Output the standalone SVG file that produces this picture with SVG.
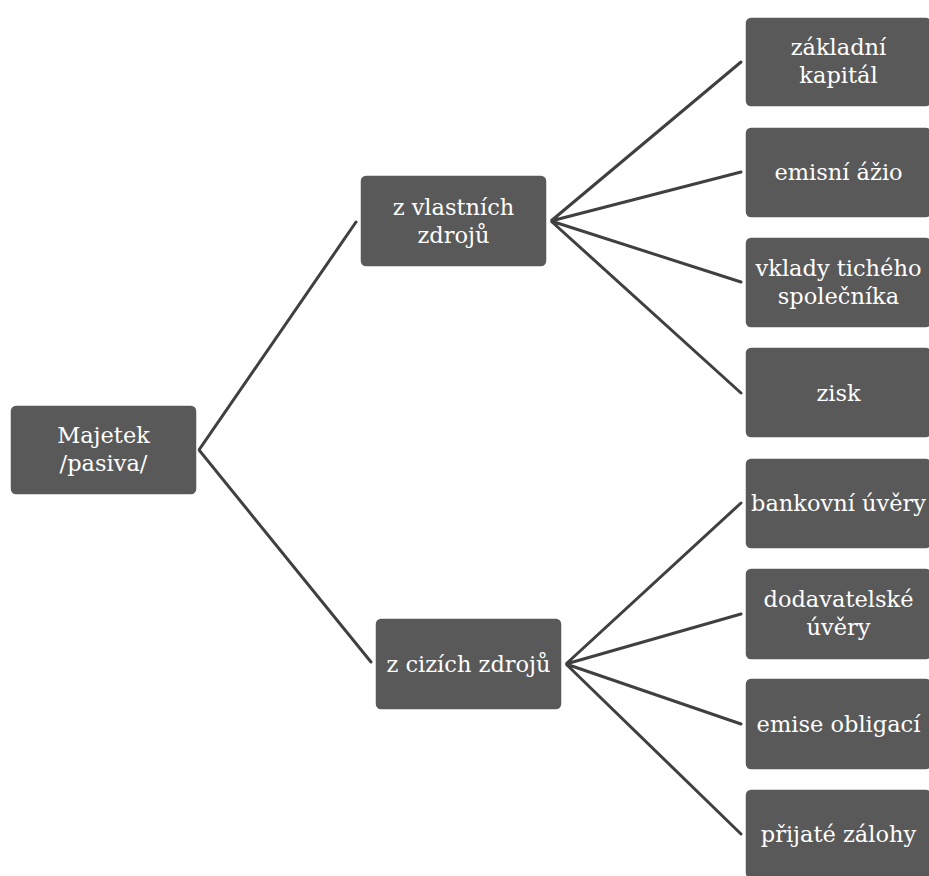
<svg xmlns="http://www.w3.org/2000/svg" width="929" height="876" viewBox="0 0 929 876">
<style>
.box{fill:#595959;stroke:#ffffff;stroke-width:1.5}
.t{font-family:"DejaVu Serif","Liberation Serif",serif;font-size:22.5px;fill:#ffffff;text-anchor:middle}
.c{stroke:#404040;stroke-width:3;fill:none;stroke-linecap:round}
</style>
<rect width="929" height="876" fill="#ffffff"/>
<g id="connectors">
<path class="c" d="M356,222 L199,450 L371,662"/>
<path class="c" d="M741,62 L551,221 L741,172"/>
<path class="c" d="M741,282 L551,221 L741,393"/>
<path class="c" d="M741,503 L566,664 L741,614"/>
<path class="c" d="M741,724 L566,664 L741,834"/>
</g>
<g id="root"><rect class="box" x="10" y="405" width="187" height="90" rx="6"/><text class="t" x="103.5" y="443">Majetek</text><text class="t" x="103.5" y="471">/pasiva/</text></g>
<g id="vlastni"><rect class="box" x="360" y="175" width="187" height="92" rx="6"/><text class="t" x="453.5" y="215">z vlastních</text><text class="t" x="453.5" y="243">zdrojů</text></g>
<g id="cizi"><rect class="box" x="375" y="618" width="187" height="92" rx="6"/><text class="t" x="468.5" y="672">z cizích zdrojů</text></g>
<g id="zakladni"><rect class="box" x="745" y="17" width="187" height="90" rx="6"/><text class="t" x="838.5" y="55">základní</text><text class="t" x="838.5" y="83">kapitál</text></g>
<g id="azio"><rect class="box" x="745" y="127" width="187" height="91" rx="6"/><text class="t" x="838.5" y="180">emisní ážio</text></g>
<g id="vklady"><rect class="box" x="745" y="237" width="187" height="91" rx="6"/><text class="t" x="838.5" y="276">vklady tichého</text><text class="t" x="838.5" y="304">společníka</text></g>
<g id="zisk"><rect class="box" x="745" y="347" width="187" height="91" rx="6"/><text class="t" x="838.5" y="401">zisk</text></g>
<g id="bankovni"><rect class="box" x="745" y="458" width="187" height="91" rx="6"/><text class="t" x="838.5" y="511">bankovní úvěry</text></g>
<g id="dodavatelske"><rect class="box" x="745" y="568" width="187" height="92" rx="6"/><text class="t" x="838.5" y="607">dodavatelské</text><text class="t" x="838.5" y="635">úvěry</text></g>
<g id="obligace"><rect class="box" x="745" y="678" width="187" height="92" rx="6"/><text class="t" x="838.5" y="732">emise obligací</text></g>
<g id="zalohy"><rect class="box" x="745" y="789" width="187" height="90" rx="6"/><text class="t" x="838.5" y="842">přijaté zálohy</text></g>
</svg>
